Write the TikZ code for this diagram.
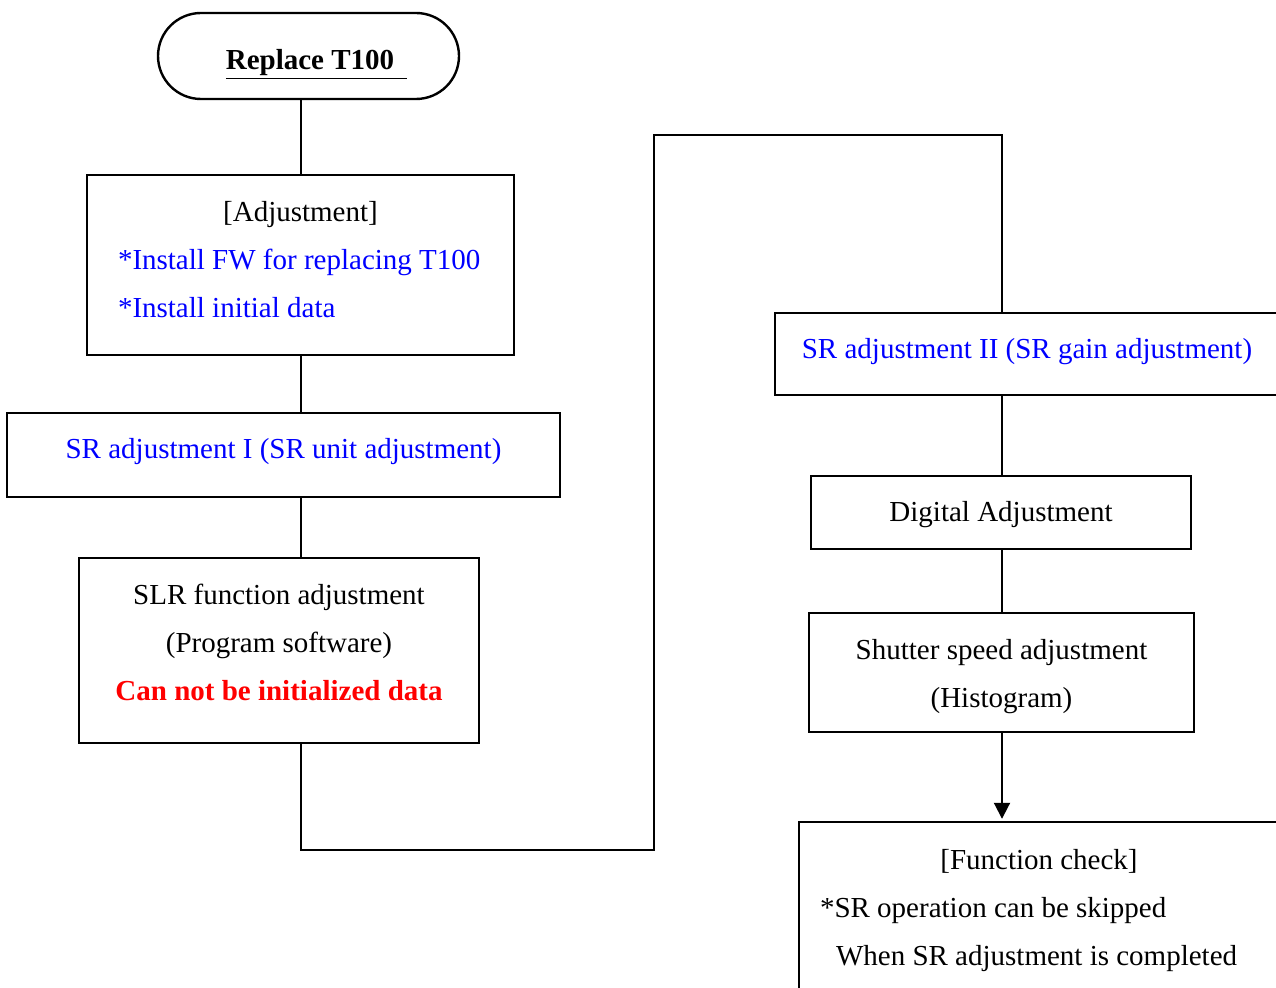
\documentclass[tikz,border=0pt]{standalone}
\usepackage{fontspec}
\setmainfont{Liberation Serif}
\usetikzlibrary{arrows.meta}

\begin{document}
\begin{tikzpicture}[
x=0.5pt,y=-0.5pt,
stepbox/.style={
  draw,
  line width=1.2pt,
  inner sep=0pt,
  align=center,
  font=\fontsize{14.5}{24}\selectfont
  },
terminal/.style={
  stepbox,
  rounded corners=21.5pt
  },
link/.style={
  line width=1pt
  }
]
\useasboundingbox (0,0) rectangle (1276,988);
\clip (0,0) rectangle (1276,988);
\coordinate (lx) at (301,0);
\coordinate (rx) at (1002,0);
\node[terminal,minimum width=150.5pt,minimum height=43pt,text height=19pt] (start) at (308.5,56)
  {\hspace*{8pt}\bfseries\underline{Replace T100\hspace{6.5pt}}};
\node[stepbox,minimum width=213.5pt,minimum height=90pt,text width=182.5pt,align=flush left,text depth=54pt] (adj) at (300.5,265)
  {\makebox[182.5pt]{[Adjustment]}\\
   \mbox{\textcolor{blue}{*Install FW for replacing T100}}\\
   \mbox{\textcolor{blue}{*Install initial data}}};
\node[stepbox,minimum width=276.5pt,minimum height=42pt,text depth=7pt] (sri) at (283.5,455)
  {\textcolor{blue}{SR adjustment I (SR unit adjustment)}};
\node[stepbox,minimum width=200pt,minimum height=92.5pt,text depth=8pt] (slr) at (279,650.5)
  {SLR function adjustment\\
   (Program software)\\
   \textcolor{red}{\bfseries Can not be initialized data}};
\node[stepbox,minimum width=252pt,minimum height=41pt,text depth=6pt] (srii) at (1027,354)
  {\textcolor{blue}{SR adjustment II (SR gain adjustment)}};
\node[stepbox,minimum width=190pt,minimum height=36.5pt,text height=12.5pt] (dig) at (1001,512.5)
  {Digital Adjustment};
\node[stepbox,minimum width=192.5pt,minimum height=59.5pt,text height=38pt] (shut) at (1001.5,672.5)
  {Shutter speed adjustment\\
   (Histogram)};
\node[stepbox,minimum width=240pt,minimum height=85pt,text width=219pt,align=flush left,text height=13.5pt] (fcheck) at (1039,907)
  {\makebox[219pt]{[Function check]}\\
   \mbox{{}*SR operation can be skipped}\\
   \mbox{\hspace*{8pt}When SR adjustment is completed}};
\coordinate (turnb) at (654,850);
\coordinate (turnt) at (654,135);
\foreach \a/\b in {start/adj,adj/sri,sri/slr}
  \draw[link] (\a.south -| lx) -- (\b.north -| lx);
\draw[link] (slr.south -| lx) |- (turnb) -- (turnt) -| (srii.north -| rx);
\foreach \a/\b in {srii/dig,dig/shut}
  \draw[link] (\a.south -| rx) -- (\b.north -| rx);
\draw[link,-{Triangle[length=8pt,width=8pt]},shorten >=1pt] (shut.south -| rx) -- (fcheck.north -| rx);
\end{tikzpicture}
\end{document}
